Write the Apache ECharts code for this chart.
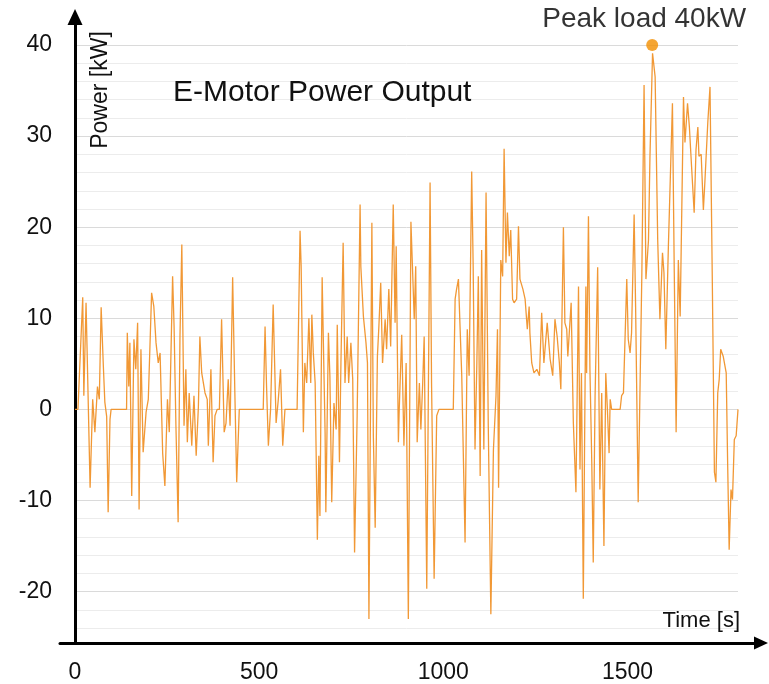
<!DOCTYPE html>
<html>
<head>
<meta charset="utf-8">
<script src="https://cdn.jsdelivr.net/npm/echarts@6/dist/echarts.min.js"></script>
<style>
  html, body { margin: 0; padding: 0; background: #fff; }
  #chart { width: 769px; height: 684px; }
</style>
</head>
<body>
<div id="chart"></div>
<script>
// time in seconds, power in kW
const timeSec = [
  0, 8, 21, 24, 30, 41, 48, 54, 61, 66, 71, 77, 81, 86, 90, 95, 98,
  140, 142, 146, 149, 154, 160, 165, 170, 174, 179, 185, 193, 199, 208, 214, 220, 226, 231, 238, 244, 251, 256,
  265, 269, 274, 280, 285, 290, 296, 301, 305, 310, 317, 323, 329, 335, 339, 344, 353, 359, 362, 369, 375, 380,
  386, 392, 398, 405, 410, 416, 421, 428, 434, 439, 446,
  511, 516, 520, 525, 531, 538, 546, 552, 558, 564, 570,
  603, 611, 614, 620, 624, 629, 635, 640, 643, 647, 652, 658, 662, 665, 671, 674, 679, 681, 688, 692, 697,
  703, 709, 712, 718, 722, 728, 733, 739, 743, 749, 754, 759, 766, 774, 776, 783, 790, 794, 798,
  806, 810, 815, 821, 825, 830, 835, 842, 846, 852, 857, 864, 869, 872, 878, 880, 887, 893, 899,
  905, 912, 917, 921, 925, 929, 935, 939, 944, 948, 955, 964, 968, 975, 982, 988,
  1027, 1032, 1036, 1041, 1045, 1050, 1054, 1059, 1065, 1070, 1077, 1081, 1086, 1091, 1095, 1100,
  1104, 1110, 1116, 1122, 1129, 1136, 1143, 1147, 1150, 1156, 1161, 1165, 1170, 1174, 1179, 1183, 1188, 1192, 1199,
  1204, 1208, 1216, 1222, 1228, 1233, 1235, 1240, 1246, 1254, 1261, 1267, 1273, 1282, 1290, 1297,
  1303, 1309, 1315, 1319, 1326, 1330, 1335, 1338, 1347, 1353, 1360, 1367, 1371, 1375, 1380, 1387, 1389, 1394, 1398,
  1403, 1407, 1412, 1419, 1425, 1430, 1436, 1441, 1445, 1450, 1453, 1457, 1480, 1484, 1489, 1498,
  1502, 1507, 1511, 1518, 1522, 1529, 1539, 1545, 1550, 1557, 1561, 1568, 1575, 1582, 1588, 1595, 1599,
  1604, 1611, 1622, 1627, 1632, 1638, 1643, 1652, 1656, 1663, 1668, 1674, 1681, 1686, 1691, 1694,
  1700, 1706, 1710, 1718, 1724, 1730, 1736, 1740, 1745, 1749, 1753, 1760, 1768, 1772, 1776, 1781, 1785, 1790, 1795, 1800
];
const powerKW = [
  0, 0, 12.3, 1.5, 11.7, -8.6, 1.1, -2.5, 2.5, 1.1, 11.2, 4.7, 0.8, -0.8, -11.3, -1.1, 0,
  0, 8.4, 2.5, 7.3, -9.5, 7.7, 4.4, 9.5, -11, 6.6, -4.7, -0.3, 1.1, 12.8, 11.3, 7.3, 5.1, 6.2, -4.8, -8.4, 1.1, -2.5,
  14.6, 9.1, -1.8, -12.4, 8, 18.1, -1.8, 4.4, -3.6, 1.8, -4, 1.5, -5.1, 0.3, 8, 4, 1.8, 1.1, -4, 4.4, -5.8, -0.7,
  0, 0, 9.9, -2.5, -1.5, 3.3, -1.8, 14.5, 1.8, -8, 0,
  0, 9.1, 2.6, -4, 0, 11.5, -1.5, 1.1, 4.4, -4, 0,
  0, 19.6, 15.7, -2.5, 5.1, 2.9, 10, 2.9, 10.4, 6.2, 2.9, -14.3, -5.1, -11.7, 14.5, 8, -2.5, -11.3, 8.4, 3.7, -10.2,
  0.7, -2.2, 9.3, -5.8, 5.1, 18.3, 2.9, 8, 2.9, 7.3, 3.3, -15.7, -0.7, 22.5, 15.7, 10.2, 7.3, 5.1, -23,
  20.5, -2.9, -13, 5.8, 9.1, 13.9, 5.1, 9.9, 6.6, 13.2, 6.9, 22.5, 9.5, 17.9, -3.6, -0.3, 8.2, -4, 5.1,
  -23, 20.6, 20.8, 9.9, 15.7, -3.6, 2.9, -2.2, 2.9, 8, -19.7, 24.9, 2.9, -18.6, -0.7, 0,
  0, 12.1, 13.2, 14.3, 9.5, 3.7, -4.4, -14.6, 8.8, 3.7, 26.1, 15.7, -4.4, 5.1, 14.6, -7.3,
  17.5, -4.4, 23.8, -1.8, -22.5, -4.4, 1.5, 8.8, -8.6, 16.4, 14.6, 28.6, 16.1, 21.6, 16.8, 19.7, 12.1, 11.7, 12.1,
  20.1, 14.3, 13.2, 12.1, 8.8, 11.3, 8.4, 5.1, 4, 4.4, 3.7, 10.6, 5.1, 9.5, 5.5, 3.7,
  9.9, 8, 5.1, 2.2, 20, 9.5, 8.8, 5.8, 11.7, -1.5, -9.1, 13.5, -6.6, 4, -20.8, 13.5, 4, 21.2, 4.4,
  -5.8, -16.8, 1.5, 15.6, -8.8, 1.8, -15, 4, 0.4, -4.8, 1.1, 0, 0, 1.5, 1.8, 14.3,
  7.7, 6.2, 8.4, 21.4, 11.3, -10.2, 15, 35.6, 14.3, 18.6, 27.8, 39.1, 36.5, 18.6, 9.9, 17.2, 15,
  6.6, 17.9, 33.6, 15, -2.5, 16.4, 10.2, 34.3, 29.3, 33.6, 31, 26.6, 21.6, 28.5, 31, 27.8,
  28, 21.9, 24.9, 31.5, 35.4, 15, -6.9, -8, 1.8, 3.3, 6.6, 5.8, 4, -6.2, -15.4, -8.8, -9.9, -3.3, -2.9, 0
];
const xTickLabels = [0, 500, 1000, 1500];
const yTickLabels = [-20, -10, 0, 10, 20, 30, 40];
const peakPoint = [1567, 40];
const peakText = 'Peak load 40kW';
const titleText = 'E-Motor Power Output';
const xName = 'Time [s]';
const yName = 'Power [kW]';

const FONT = "'Liberation Sans', Arial, sans-serif";
const minorColor = '#ececec';
const majorColor = '#dadada';

const myChart = echarts.init(document.getElementById('chart'), null, { renderer: 'canvas' });

const lineData = timeSec.map((t, i) => [t, powerKW[i]]);

const option = {
  animation: false,
  backgroundColor: '#fff',
  grid: [
    // data area
    { left: 75, right: 31, top: 45, bottom: 55.5 },
    // x axis line (with arrow)
    { left: 60, right: 8, top: 17, bottom: 41 },
    // y axis line (with arrow)
    { left: 75, right: 8, top: 17, bottom: 41 }
  ],
  xAxis: [
    {
      gridIndex: 0,
      type: 'value',
      min: 0,
      max: 1800,
      interval: 500,
      axisLine: { show: false },
      axisTick: { show: false },
      splitLine: { show: false },
      axisLabel: {
        margin: 33,
        color: '#111',
        fontFamily: FONT,
        fontSize: 23,
        showMaxLabel: false,
        formatter: (v) => (xTickLabels.includes(v) ? String(v) : '')
      }
    },
    {
      gridIndex: 1,
      type: 'value',
      min: 0,
      max: 1,
      axisLine: {
        show: true,
        onZero: false,
        symbol: ['none', 'triangle'],
        symbolSize: [13, 14],
        lineStyle: { color: '#000', width: 3 }
      },
      axisTick: { show: false },
      axisLabel: { show: false },
      splitLine: { show: false }
    },
    {
      gridIndex: 2,
      type: 'value',
      min: 0,
      max: 1,
      show: false
    }
  ],
  yAxis: [
    {
      gridIndex: 0,
      type: 'value',
      min: -24,
      max: 40,
      interval: 2,
      axisLine: { show: false },
      axisTick: { show: false },
      axisLabel: {
        margin: 23,
        color: '#111',
        fontFamily: FONT,
        fontSize: 23,
        formatter: (v) => (yTickLabels.includes(v) ? String(v) : '')
      },
      splitLine: {
        show: true,
        lineStyle: { color: [minorColor, minorColor, majorColor, minorColor, minorColor], width: 1 }
      }
    },
    {
      gridIndex: 1,
      type: 'value',
      min: 0,
      max: 1,
      show: false
    },
    {
      gridIndex: 2,
      type: 'value',
      min: 0,
      max: 1,
      axisLine: {
        show: true,
        onZero: false,
        symbol: ['none', 'triangle'],
        symbolSize: [15, 16],
        lineStyle: { color: '#000', width: 3 }
      },
      axisTick: { show: false },
      axisLabel: { show: false },
      splitLine: { show: false }
    }
  ],
  series: [
    {
      type: 'line',
      xAxisIndex: 0,
      yAxisIndex: 0,
      data: lineData,
      showSymbol: false,
      lineStyle: { color: '#f0922a', width: 1.3, opacity: 0.95 },
      z: 3
    },
    {
      type: 'scatter',
      xAxisIndex: 0,
      yAxisIndex: 0,
      data: [peakPoint],
      symbolSize: 12,
      clip: false,
      itemStyle: { color: '#f28e00' },
      label: {
        show: true,
        position: 'top',
        distance: 6,
        offset: [-8, 0],
        formatter: peakText,
        color: '#000',
        textBorderWidth: 0,
        fontFamily: FONT,
        fontSize: 28
      },
      z: 4
    }
  ],
  graphic: [
    {
      type: 'text',
      x: 173,
      y: 93,
      z: 100,
      style: { text: titleText, fill: '#111', font: '30px ' + FONT, textAlign: 'left', textVerticalAlign: 'middle' }
    },
    {
      type: 'text',
      x: 740,
      y: 621,
      z: 100,
      style: { text: xName, fill: '#111', font: '22px ' + FONT, textAlign: 'right', textVerticalAlign: 'middle' }
    },
    {
      type: 'text',
      x: 101,
      y: 90,
      z: 100,
      rotation: Math.PI / 2,
      style: { text: yName, fill: '#111', font: '23px ' + FONT, textAlign: 'center', textVerticalAlign: 'middle' }
    }
  ]
};

myChart.setOption(option);
</script>
</body>
</html>
